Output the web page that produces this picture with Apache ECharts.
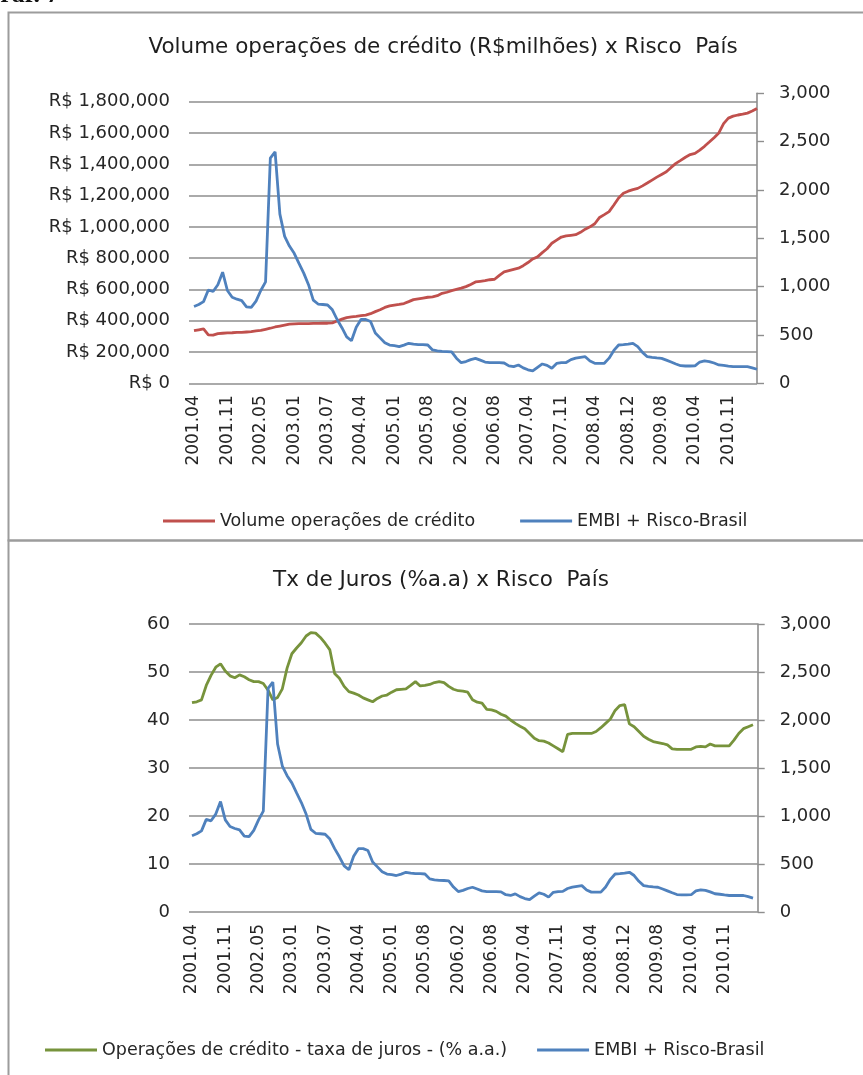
<!DOCTYPE html>
<html>
<head>
<meta charset="utf-8">
<style>
  html, body { margin: 0; padding: 0; background: #ffffff; }
  #chart { width: 863px; height: 1075px; }
</style>
<script src="https://cdn.jsdelivr.net/npm/echarts@6/dist/echarts.min.js"></script>
</head>
<body>
<div id="chart"></div>
<script>
// Category axis: a label every seventh observation.
const tickLabels = ['2001.04', '2001.11', '2002.05', '2003.01', '2003.07', '2004.04', '2005.01',
  '2005.08', '2006.02', '2006.08', '2007.04', '2007.11', '2008.04', '2008.12', '2009.08',
  '2010.04', '2010.11'];
const LABEL_STEP = 7;

// Volume of credit operations (R$ millions)
const creditVolume = [
  336000, 342000, 348000, 310000, 308000, 318000, 320000, 322000, 323000, 325000,
  326000, 328000, 330000, 335000, 338000, 345000, 352000, 360000, 366000, 372000,
  378000, 380000, 381000, 382000, 382000, 383000, 383000, 384000, 384000, 386000,
  398000, 410000, 420000, 425000, 428000, 432000, 436000, 445000, 458000, 470000,
  485000, 495000, 500000, 504000, 510000, 522000, 535000, 540000, 545000, 550000,
  553000, 560000, 575000, 582000, 592000, 600000, 608000, 618000, 632000, 648000,
  652000, 656000, 662000, 665000, 690000, 712000, 720000, 728000, 736000,
  752000, 772000, 795000, 808000, 835000, 860000, 895000, 915000, 935000, 942000,
  946000, 950000, 965000, 985000, 1000000, 1020000, 1060000, 1078000, 1097000, 1140000,
  1185000, 1215000, 1228000, 1238000, 1246000, 1262000, 1280000, 1299000, 1318000, 1335000,
  1352000, 1380000, 1406000, 1425000, 1445000, 1462000, 1470000, 1491000, 1515000, 1542000,
  1570000, 1600000, 1660000, 1695000, 1708000, 1715000, 1720000, 1727000, 1740000, 1757000
];

// EMBI+ Brazil country risk (basis points)
const embiRisk = [
  795, 815, 845, 965, 950, 1020, 1150, 960, 890, 870,
  855, 790, 785, 850, 960, 1050, 2330, 2395, 1750, 1520,
  1420, 1345, 1240, 1140, 1020, 860, 820, 815, 810, 760,
  660, 575, 480, 440, 580, 660, 660, 640, 520, 470,
  420, 395, 390, 380, 395, 414, 405, 400, 400, 396,
  345, 335, 330, 328, 325, 260, 213, 225, 245, 258,
  240, 220, 213, 213, 213, 210, 180, 172, 189,
  160, 140, 128, 165, 200, 185, 155, 205, 213, 215,
  245, 260, 268, 275, 230, 207, 207, 207, 260, 340,
  396, 400, 405, 414, 380, 320, 275, 268, 262, 258,
  240, 220, 200, 182, 179, 179, 180, 220, 231, 225,
  210, 190, 185, 178, 172, 172, 172, 172, 160, 145
];

// Credit operations interest rate (% per year)
const creditRate = [
  43.6, 43.8, 44.2, 47.2, 49.3, 51.0, 51.7, 50.2, 49.2, 48.8,
  49.4, 49.0, 48.4, 48.0, 48.0, 47.6, 46.2, 44.2, 44.7, 46.5,
  50.8, 53.8, 55.0, 56.1, 57.5, 58.2, 58.1, 57.2, 56.0, 54.6,
  49.7, 48.7, 47.0, 45.9, 45.6, 45.2, 44.6, 44.2, 43.8, 44.5,
  45.0, 45.2, 45.8, 46.3, 46.4, 46.5, 47.2, 48.0, 47.1, 47.2,
  47.4, 47.8, 48.0, 47.8, 47.0, 46.4, 46.1, 46.0, 45.8, 44.2,
  43.7, 43.5, 42.2, 42.1, 41.8, 41.2, 40.8, 40.0, 39.3,
  38.7, 38.2, 37.2, 36.2, 35.7, 35.6, 35.2, 34.6, 34.0, 33.4,
  37.0, 37.2, 37.2, 37.2, 37.2, 37.2, 37.6, 38.4, 39.3, 40.2,
  42.0, 43.0, 43.2, 39.2, 38.6, 37.6, 36.6, 36.0, 35.5, 35.3,
  35.1, 34.8, 34.0, 33.9, 33.9, 33.9, 33.9, 34.4, 34.5, 34.4,
  35.0, 34.6, 34.6, 34.6, 34.6, 35.8, 37.2, 38.2, 38.6, 39.0
];

// Axis scales
const volumeAxis = { min: 0, max: 1800000, interval: 200000 };
const rateAxis = { min: 0, max: 60, interval: 10 };
const riskAxis = { min: 0, max: 3000, interval: 500 };

const NAME_VOLUME = 'Volume operações de crédito';
const NAME_RATE = 'Operações de crédito - taxa de juros - (% a.a.)';
const NAME_EMBI = 'EMBI + Risco-Brasil';
const TITLE_TOP = 'Volume operações de crédito (R$milhões) x Risco  País';
const TITLE_BOTTOM = 'Tx de Juros (%a.a) x Risco  País';

// Month names for the points between two labelled ticks
function shiftMonth(label, n) {
  const [y, m] = label.split('.').map(Number);
  const t = y * 12 + (m - 1) + n;
  return Math.floor(t / 12) + '.' + String((t % 12) + 1).padStart(2, '0');
}
const categories = embiRisk.map((_, i) => {
  const k = Math.min(Math.floor(i / LABEL_STEP), tickLabels.length - 1);
  return shiftMonth(tickLabels[k], i - k * LABEL_STEP);
});
const isTick = i => i % LABEL_STEP === 0 && i / LABEL_STEP < tickLabels.length;

const FONT = 'DejaVu Sans';
const TEXT = '#262626';
const GRID_GRAY = '#8e8e8e';
const RED = '#c0504d';
const BLUE = '#4f81bd';
const GREEN = '#77933c';

const fmtThousands = v => Number(v).toLocaleString('en-US');

const hiddenX = gridIndex => ({
  type: 'category', gridIndex, data: categories, boundaryGap: false, show: false
});
const labelledX = gridIndex => ({
  type: 'category', gridIndex, data: categories, boundaryGap: false,
  axisLine: { show: false }, axisTick: { show: false }, splitLine: { show: false },
  axisLabel: {
    interval: isTick, rotate: 90, margin: 12,
    fontFamily: FONT, fontSize: 17, color: TEXT
  }
});
const gridAxis = (gridIndex, scale, formatter) => Object.assign({
  type: 'value', gridIndex, position: 'left',
  axisLine: { show: false }, axisTick: { show: false },
  splitLine: { show: true, lineStyle: { color: GRID_GRAY, width: 1.6 } },
  axisLabel: { margin: 19, fontFamily: FONT, fontSize: 18, color: TEXT, formatter }
}, scale);
const riskScale = (gridIndex, visible) => Object.assign({
  type: 'value', gridIndex, position: 'right', show: visible,
  axisLine: { show: true, lineStyle: { color: GRID_GRAY, width: 1.6 } },
  axisTick: { show: true, inside: false, length: 7, lineStyle: { color: GRID_GRAY, width: 1.4 } },
  splitLine: { show: false },
  axisLabel: { margin: 22, fontFamily: FONT, fontSize: 18, color: TEXT, formatter: fmtThousands }
}, riskAxis);
const hiddenY = (gridIndex, scale, position) => Object.assign({
  type: 'value', gridIndex, position, show: false, splitLine: { show: false }
}, scale);
const line = (name, data, color, xAxisIndex, yAxisIndex) => ({
  type: 'line', name, data, xAxisIndex, yAxisIndex,
  showSymbol: false, symbol: 'none', smooth: false,
  lineStyle: { color, width: 2.8 }, itemStyle: { color },
  emphasis: { disabled: true }
});
const legendStyle = { fontFamily: FONT, fontSize: 17.5, color: TEXT };

const chart = echarts.init(document.getElementById('chart'), null, { renderer: 'canvas' });
chart.setOption({
  animation: false,
  backgroundColor: '#ffffff',
  graphic: [
    { type: 'text', left: -20, top: -18, silent: true,
      style: { text: 'Gráf. 7', fontFamily: 'Liberation Serif', fontWeight: 'bold', fontSize: 26, fill: '#111' } },
    { type: 'rect', silent: true, shape: { x: 8.5, y: 12.5, width: 900, height: 528 },
      style: { fill: 'none', stroke: '#9c9c9c', lineWidth: 2 } },
    { type: 'rect', silent: true, shape: { x: 8.5, y: 540.5, width: 900, height: 600 },
      style: { fill: 'none', stroke: '#9c9c9c', lineWidth: 2 } },
    { type: 'text', silent: true, x: 443, y: 47,
      style: { text: TITLE_TOP, fontFamily: FONT, fontSize: 21.5, fill: '#1e1e1e', align: 'center', verticalAlign: 'middle' } },
    { type: 'text', silent: true, x: 441, y: 580,
      style: { text: TITLE_BOTTOM, fontFamily: FONT, fontSize: 21.5, fill: '#1e1e1e', align: 'center', verticalAlign: 'middle' } }
  ],
  legend: [
    { left: 158, top: 507, itemGap: 45, itemWidth: 52, itemHeight: 3, icon: 'rect',
      selectedMode: false, textStyle: legendStyle, data: [NAME_VOLUME, NAME_EMBI] },
    { left: 40, top: 1036, itemGap: 30, itemWidth: 52, itemHeight: 3, icon: 'rect',
      selectedMode: false, textStyle: legendStyle, data: [NAME_RATE, NAME_EMBI] }
  ],
  grid: [
    { left: 189, width: 568, top: 101.7, height: 281.6 },   // 0 top: gridlines + left labels
    { left: 194, width: 563, top: 101.7, height: 281.6 },   // 1 top: credit volume
    { left: 194, width: 563, top: 93.3, height: 290 },      // 2 top: EMBI + right axis
    { left: 189, width: 568.7, top: 624, height: 288 },     // 3 bottom: gridlines + both axes
    { left: 192, width: 561, top: 624, height: 288 }        // 4 bottom: rate + EMBI
  ],
  xAxis: [hiddenX(0), labelledX(1), hiddenX(2), hiddenX(3), labelledX(4)],
  yAxis: [
    gridAxis(0, volumeAxis, v => 'R$ ' + fmtThousands(v)),
    hiddenY(1, volumeAxis, 'left'),
    riskScale(2, true),
    gridAxis(3, rateAxis, v => String(v)),
    riskScale(3, true),
    hiddenY(4, rateAxis, 'left'),
    hiddenY(4, riskAxis, 'right')
  ],
  series: [
    line(NAME_VOLUME, creditVolume, RED, 1, 1),
    line(NAME_EMBI, embiRisk, BLUE, 2, 2),
    line(NAME_RATE, creditRate, GREEN, 4, 5),
    line(NAME_EMBI, embiRisk, BLUE, 4, 6)
  ]
});
</script>
</body>
</html>
